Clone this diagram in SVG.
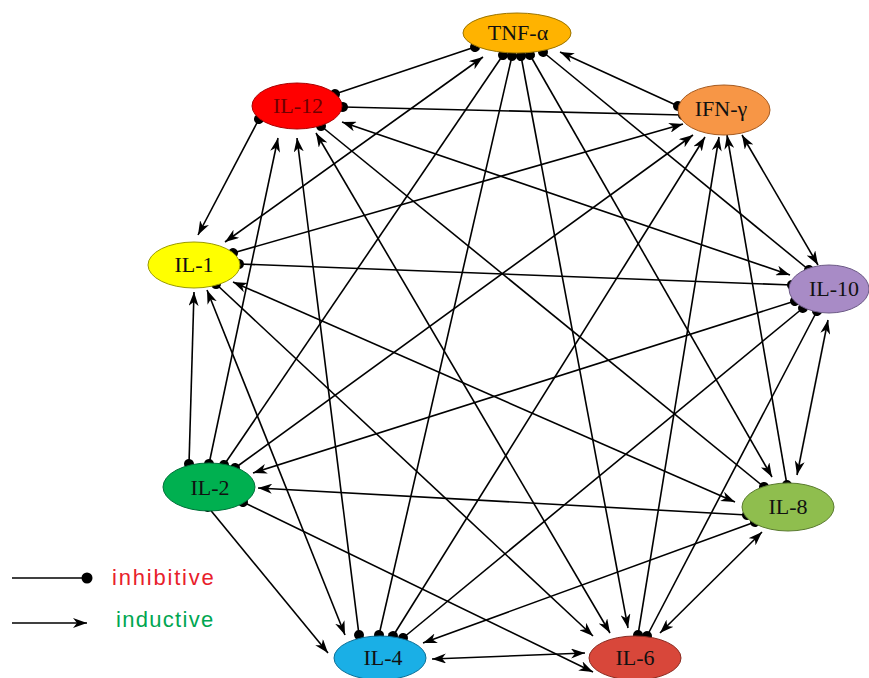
<svg xmlns="http://www.w3.org/2000/svg" width="869" height="678" viewBox="0 0 869 678">
<defs>
<marker id="arr" viewBox="0 0 14 10" refX="14" refY="5" markerWidth="14" markerHeight="10" markerUnits="userSpaceOnUse" orient="auto-start-reverse"><path d="M0,0 L14,5 L0,10 L4,5 z" fill="#000"/></marker>
<marker id="dot" viewBox="0 0 11 11" refX="5.5" refY="5.5" markerWidth="11" markerHeight="11" markerUnits="userSpaceOnUse" orient="auto"><circle cx="5.5" cy="5.5" r="5" fill="#000"/></marker>
<marker id="ldot" viewBox="0 0 12 12" refX="6" refY="6" markerWidth="12" markerHeight="12" markerUnits="userSpaceOnUse" orient="auto"><circle cx="6" cy="6" r="5.5" fill="#000"/></marker>
</defs>
<style>
.e line{stroke:#000;stroke-width:1.6;fill:none}
.sd{marker-start:url(#dot)} .sa{marker-start:url(#arr)}
.ed{marker-end:url(#dot)} .ea{marker-end:url(#arr)}
.n ellipse{stroke-width:1}
.n text{font-family:"Liberation Serif","Times New Roman",serif;font-size:22px;text-anchor:middle;fill:#111}
.lg{font-family:"Liberation Sans",Arial,sans-serif;font-size:22px}
</style>
<rect width="869" height="678" fill="#fff"/>
<g id="connectors" class="e">
<line class="sd ed" x1="475" y1="47" x2="335" y2="94"/>
<line class="sa ed" x1="560" y1="52" x2="678" y2="106"/>
<line class="sa ea" x1="483" y1="57" x2="225" y2="242"/>
<line class="sd ed" x1="503" y1="55" x2="224" y2="465"/>
<line class="sd ed" x1="512" y1="56" x2="379" y2="635"/>
<line class="sd ea" x1="521" y1="56" x2="628" y2="628"/>
<line class="sd ea" x1="530" y1="55" x2="772" y2="477"/>
<line class="sd ed" x1="543" y1="52" x2="809" y2="270"/>
<line class="sd ed" x1="343" y1="107" x2="683" y2="115"/>
<line class="sd ea" x1="259" y1="119" x2="198" y2="235"/>
<line class="sa ea" x1="342" y1="122" x2="790" y2="275"/>
<line class="sa ed" x1="278" y1="138" x2="209" y2="464"/>
<line class="sd ed" x1="321" y1="126" x2="764" y2="487"/>
<line class="sa ed" x1="297" y1="138" x2="359" y2="635"/>
<line class="sa ea" x1="316" y1="133" x2="610" y2="633"/>
<line class="sa ed" x1="683" y1="124" x2="233" y2="253"/>
<line class="sa ea" x1="742" y1="135" x2="818" y2="265"/>
<line class="sa ed" x1="693" y1="135" x2="235" y2="468"/>
<line class="sa ed" x1="727" y1="135" x2="787" y2="485"/>
<line class="sa ed" x1="705" y1="137" x2="393" y2="636"/>
<line class="sa ed" x1="719" y1="137" x2="638" y2="635"/>
<line class="sd ed" x1="239" y1="264" x2="792" y2="285"/>
<line class="sa ed" x1="194" y1="292" x2="189" y2="464"/>
<line class="sa ea" x1="233" y1="282" x2="735" y2="502"/>
<line class="sa ea" x1="207" y1="290" x2="345" y2="635"/>
<line class="sd ea" x1="216" y1="284" x2="593" y2="636"/>
<line class="sd ea" x1="795" y1="301" x2="253" y2="473"/>
<line class="sa ea" x1="828" y1="320" x2="797" y2="475"/>
<line class="sd ed" x1="803" y1="308" x2="403" y2="638"/>
<line class="sd ed" x1="817" y1="311" x2="647" y2="636"/>
<line class="sa ed" x1="258" y1="488" x2="747" y2="515"/>
<line class="sd ea" x1="208" y1="507" x2="328" y2="653"/>
<line class="sd ea" x1="243" y1="502" x2="593" y2="672"/>
<line class="sd ea" x1="755" y1="522" x2="423" y2="643"/>
<line class="sa ea" x1="762" y1="532" x2="660" y2="633"/>
<line class="sa ea" x1="432" y1="659" x2="585" y2="653"/>
</g>
<g id="TNF" class="n"><ellipse cx="517" cy="33" rx="54" ry="20" fill="#FFB300" stroke="#9a7400"/><text x="518" y="40">TNF-α</text></g>
<g id="IL-12" class="n"><ellipse cx="297" cy="106" rx="45" ry="23" fill="#FF0000" stroke="#a00"/><text x="298" y="113" style="fill:#700000">IL-12</text></g>
<g id="IFN" class="n"><ellipse cx="724" cy="110" rx="46" ry="25" fill="#F79646" stroke="#a55a20"/><text x="721" y="116">IFN-γ</text></g>
<g id="IL-1" class="n"><ellipse cx="194" cy="265" rx="46" ry="23" fill="#FFFF00" stroke="#9a9a00"/><text x="194" y="272">IL-1</text></g>
<g id="IL-10" class="n"><ellipse cx="829" cy="289" rx="40" ry="24" fill="#A88BC6" stroke="#6c5a85"/><text x="834" y="296">IL-10</text></g>
<g id="IL-2" class="n"><ellipse cx="209" cy="487" rx="46" ry="24" fill="#00B050" stroke="#00703a"/><text x="210" y="495">IL-2</text></g>
<g id="IL-8" class="n"><ellipse cx="788" cy="507" rx="46" ry="24" fill="#8FBE4E" stroke="#5a7a30"/><text x="788" y="514">IL-8</text></g>
<g id="IL-4" class="n"><ellipse cx="380" cy="658" rx="46" ry="22" fill="#1AAFE6" stroke="#0a6e95"/><text x="383" y="665">IL-4</text></g>
<g id="IL-6" class="n"><ellipse cx="635" cy="658" rx="46" ry="22" fill="#D8473A" stroke="#8a2a20"/><text x="635" y="665">IL-6</text></g>
<g id="legend">
<line x1="12" y1="578" x2="87" y2="578" stroke="#000" stroke-width="1.6" marker-end="url(#ldot)"/>
<line x1="12" y1="623" x2="87" y2="623" stroke="#000" stroke-width="1.6" marker-end="url(#arr)"/>
<text class="lg" x="112" y="585" fill="#E8202A" letter-spacing="1.8">inhibitive</text>
<text class="lg" x="116" y="627" fill="#00A651" letter-spacing="1.3">inductive</text>
</g>
</svg>
